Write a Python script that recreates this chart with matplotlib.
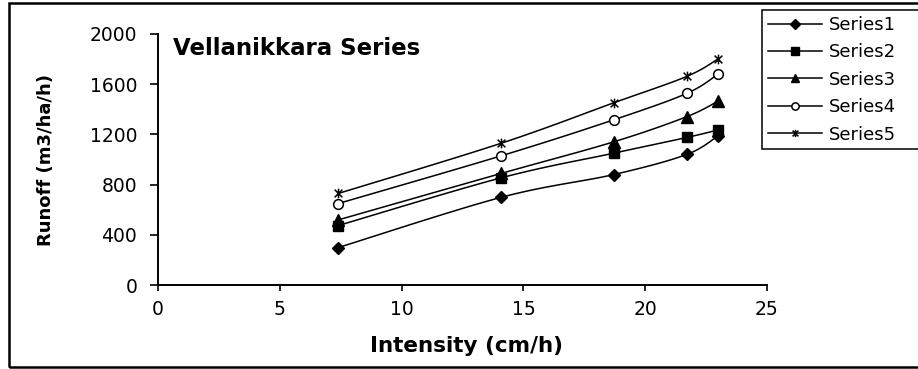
import numpy as np
import matplotlib.pyplot as plt
from matplotlib.path import Path
from matplotlib.patches import Rectangle

intensity = [7.4, 14.1, 18.7, 21.7, 23.0]
series1 = [300, 700, 880, 1040, 1190]
series2 = [475, 855, 1050, 1175, 1235]
series3 = [520, 890, 1140, 1340, 1465]
series4 = [650, 1030, 1315, 1525, 1680]
series5 = [730, 1130, 1450, 1660, 1800]
names = ['Series1', 'Series2', 'Series3', 'Series4', 'Series5']

plt.rcParams['font.family'] = ['DejaVu Sans']

W, H = 918, 369

# asterisk marker: vertical bar plus an X
star = Path([(0, -1), (0, 1), (-0.8, -0.8), (0.8, 0.8), (-0.8, 0.8), (0.8, -0.8)],
            [Path.MOVETO, Path.LINETO, Path.MOVETO, Path.LINETO, Path.MOVETO, Path.LINETO])

styles = [dict(marker='D', ms=6.5, mfc='k'),
          dict(marker='s', ms=7, mfc='k'),
          dict(marker='^', ms=8.5, mfc='k'),
          dict(marker='o', ms=7, mfc='white', mew=1.1),
          dict(marker=star, ms=7, mfc='k', mew=1.1)]


def smooth(xs, ys, sx, sy, n=30):
    # Catmull-Rom curve through the points, in scaled units
    p = np.column_stack([np.asarray(xs) * sx, np.asarray(ys) * sy])
    p = np.vstack([p[0], p, p[-1]])
    out = []
    for i in range(1, len(p) - 2):
        p0, p1, p2, p3 = p[i - 1], p[i], p[i + 1], p[i + 2]
        c1 = p1 + (p2 - p0) / 6
        c2 = p2 - (p3 - p1) / 6
        t = np.linspace(0, 1, n)[:, None]
        seg = ((1 - t) ** 3) * p1 + 3 * ((1 - t) ** 2) * t * c1 + 3 * (1 - t) * t ** 2 * c2 + t ** 3 * p2
        out.append(seg)
    out = np.vstack(out)
    return out[:, 0] / sx, out[:, 1] / sy


fig = plt.figure(figsize=(W / 100, H / 100), dpi=100)
ax = fig.add_axes([158 / W, 1 - 285.3 / H, 609 / W, 251.6 / H])

for vals, name, st in zip([series1, series2, series3, series4, series5], names, styles):
    cx, cy = smooth(intensity, vals, 609 / 25, 251.6 / 2000)
    ax.plot(cx, cy, '-', color='k', lw=1.1)
    ax.plot(intensity, vals, linestyle='none', color='k', mec='k', **st)
    ax.plot([], [], '-', color='k', lw=1.1, label=name,
            **{k: (v * 0.75 if k == 'ms' else v) for k, v in st.items()})

ax.set_xlim(0, 25)
ax.set_ylim(0, 2000)
ax.set_xticks(np.arange(0, 26, 5))
ax.set_yticks(np.arange(0, 2001, 400))
ax.tick_params(axis='x', direction='out', length=4.5, width=1.2, labelsize=13.5, pad=6)
ax.tick_params(axis='y', direction='out', length=6, width=1.2, labelsize=13.5, pad=9)
ax.spines['top'].set_visible(False)
ax.spines['right'].set_visible(False)
ax.spines['left'].set_linewidth(1.4)
ax.spines['bottom'].set_linewidth(1.4)

fig.text(466.7 / W, 1 - 351.7 / H, 'Intensity (cm/h)', fontsize=15.5, fontweight='bold',
         ha='center', va='baseline')
fig.text(46 / W, 1 - 159.5 / H, 'Runoff (m3/ha/h)', fontsize=13, fontweight='bold',
         ha='center', va='center', rotation=90)
fig.text(173 / W, 1 - 55 / H, 'Vellanikkara Series', fontsize=16.5, fontweight='bold',
         ha='left', va='baseline')

# legend box runs past the right edge of the figure
leg = fig.legend(loc='upper left', bbox_to_anchor=(762 / W, 1 - 149 / H, 175 / W, 139 / H),
                 mode='expand', fontsize=13,
                 frameon=True, fancybox=False, edgecolor='k', framealpha=1,
                 handlelength=3.0, handletextpad=0.4, labelspacing=0.52,
                 borderpad=0.33, borderaxespad=0)
leg.get_frame().set_linewidth(1.1)

# outer frame around the whole chart
fig.patches.append(Rectangle((9 / W, 2.5 / H), 1.0, 364 / H, transform=fig.transFigure,
                             fill=False, edgecolor='k', lw=1.8))

plt.savefig('out.png', dpi=100)
